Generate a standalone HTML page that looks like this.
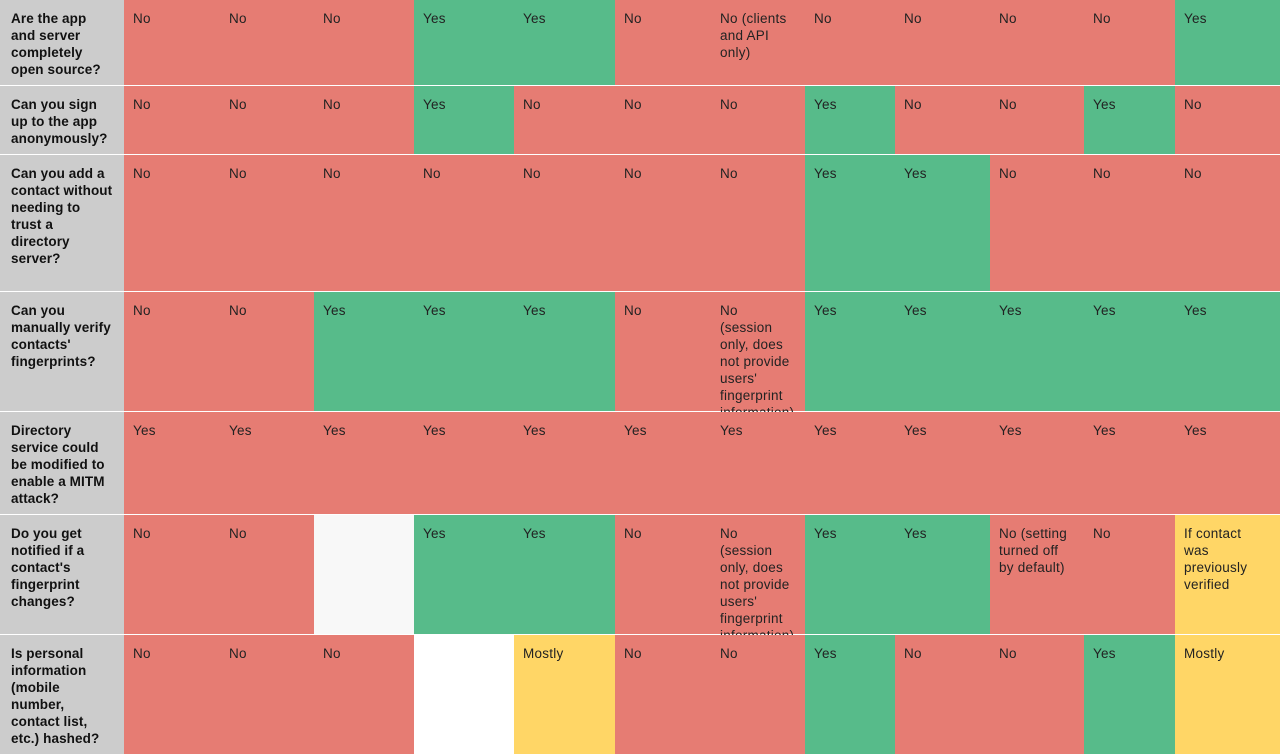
<!DOCTYPE html>
<html><head><meta charset="utf-8"><style>
body{margin:0;width:1280px;height:754px;overflow:hidden;background:#fff;font-family:"Liberation Sans",sans-serif;}
.c{position:absolute;box-sizing:border-box;padding:10px 13px 0 9px;font-size:13.5px;letter-spacing:0.25px;line-height:17px;color:#222;}
.h{background:#cccccc;font-weight:bold;padding-left:11px;padding-right:10px;color:#111;letter-spacing:0.1px;}
.r{background:#e67c73}.g{background:#57bb8a}.y{background:#ffd666}.w{background:#f8f8f8}.e{background:#fff}
</style></head><body>
<div id="t"></div>
<script>
const cols=[124,220,314,414,514,615,711,805,895,990,1084,1175,1280];
const rows=[0,86,155,292,412,515,635,754];
const heads=["Are the app and server completely open source?","Can you sign up to the app anonymously?","Can you add a contact without needing to trust a directory server?","Can you manually verify contacts' fingerprints?","Directory service could be modified to enable a MITM attack?","Do you get notified if a contact's fingerprint changes?","Is personal information (mobile number, contact list, etc.) hashed?"];
const data=[
[["No","r"],["No","r"],["No","r"],["Yes","g"],["Yes","g"],["No","r"],["No (clients and API only)","r"],["No","r"],["No","r"],["No","r"],["No","r"],["Yes","g"]],
[["No","r"],["No","r"],["No","r"],["Yes","g"],["No","r"],["No","r"],["No","r"],["Yes","g"],["No","r"],["No","r"],["Yes","g"],["No","r"]],
[["No","r"],["No","r"],["No","r"],["No","r"],["No","r"],["No","r"],["No","r"],["Yes","g"],["Yes","g"],["No","r"],["No","r"],["No","r"]],
[["No","r"],["No","r"],["Yes","g"],["Yes","g"],["Yes","g"],["No","r"],["No (session only, does not provide users' fingerprint information)","r"],["Yes","g"],["Yes","g"],["Yes","g"],["Yes","g"],["Yes","g"]],
[["Yes","r"],["Yes","r"],["Yes","r"],["Yes","r"],["Yes","r"],["Yes","r"],["Yes","r"],["Yes","r"],["Yes","r"],["Yes","r"],["Yes","r"],["Yes","r"]],
[["No","r"],["No","r"],["","w"],["Yes","g"],["Yes","g"],["No","r"],["No (session only, does not provide users' fingerprint information)","r"],["Yes","g"],["Yes","g"],["No (setting turned off by default)","r"],["No","r"],["If contact was previously verified","y"]],
[["No","r"],["No","r"],["No","r"],["","e"],["Mostly","y"],["No","r"],["No","r"],["Yes","g"],["No","r"],["No","r"],["Yes","g"],["Mostly","y"]]
];
const t=document.getElementById('t');
for(let i=0;i<heads.length;i++){
 const top=rows[i],h=rows[i+1]-rows[i]-(i<heads.length-1?1:0);
 let d=document.createElement('div');
 
 
 d.className='c h';d.style.cssText=`left:0;top:${top}px;width:${cols[0]}px;height:${h}px`;d.textContent=heads[i];t.appendChild(d);
 for(let j=0;j<12;j++){
  const [txt,cl]=data[i][j];
  d=document.createElement('div');
  
  
  d.className='c '+cl;d.style.cssText=`left:${cols[j]}px;top:${top}px;width:${cols[j+1]-cols[j]}px;height:${h}px`;d.textContent=txt;t.appendChild(d);
 }
}
</script>
</body></html>
